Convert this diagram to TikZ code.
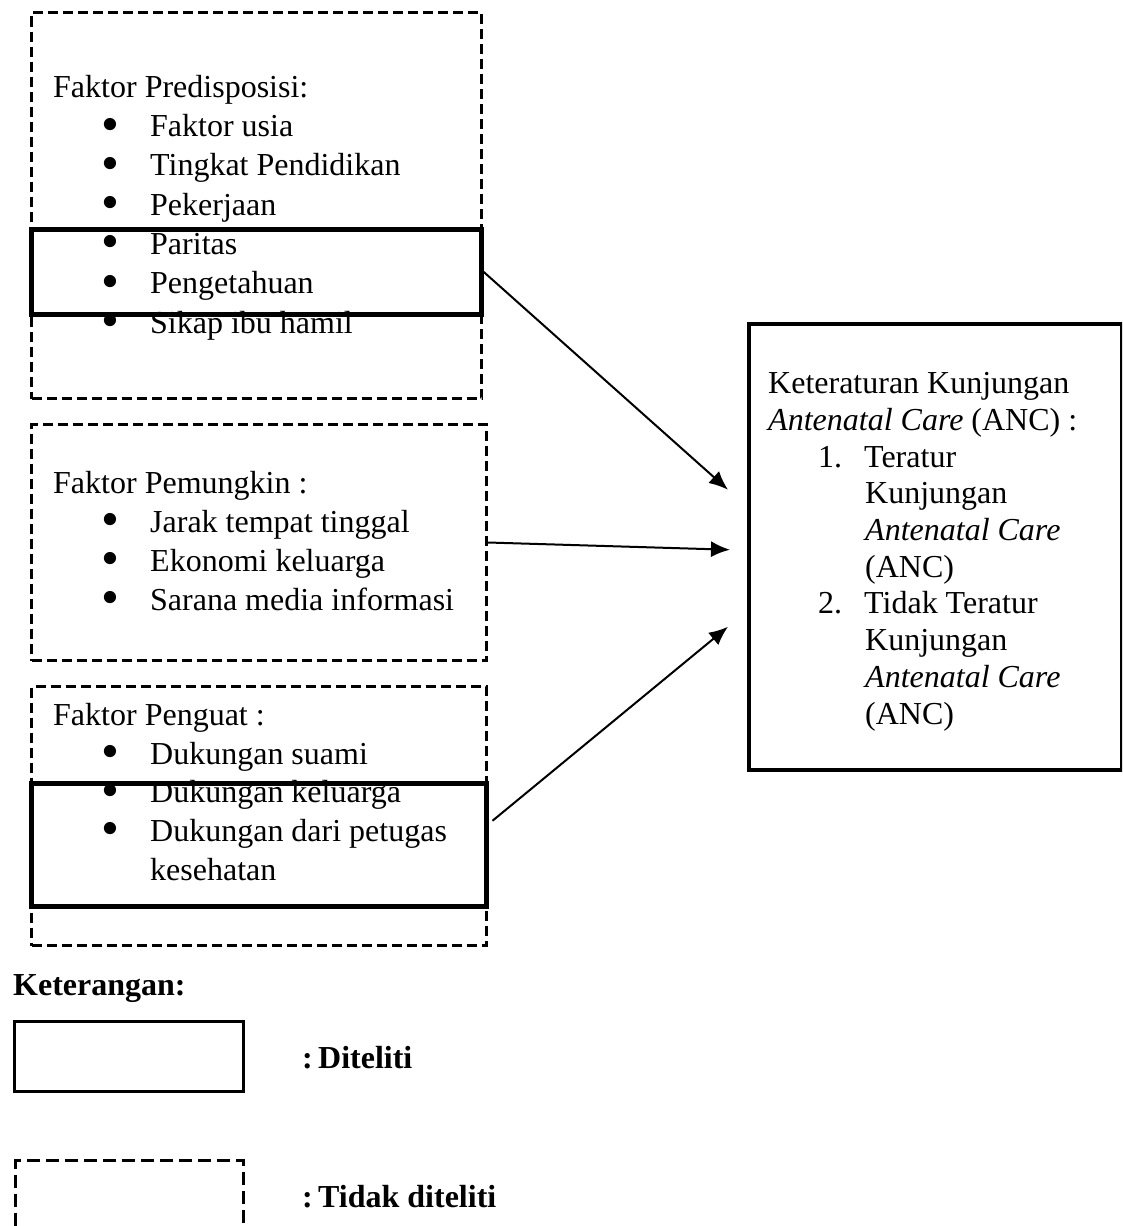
\documentclass[tikz,border=0pt]{standalone}
\usepackage{fontspec}
\setmainfont{Liberation Serif}
\usepackage{tikz}
\usetikzlibrary{arrows.meta,positioning,calc}

% bullet and number lines
\newcommand{\bul}{\hspace*{48pt}\makebox[49pt][l]{\raisebox{-4.5pt}{\scalebox{1.6}{\textbullet}}}}
\newcommand{\wrp}{\hspace*{97pt}}
\newcommand{\nmr}[1]{\hspace*{50pt}\makebox[46pt][l]{#1}}

\tikzset{
  dashbox/.style={draw,line width=3pt,dash pattern=on 10pt off 5pt,inner sep=0pt,anchor=north west},
  keybox/.style={draw,line width=4.5pt,inner sep=0pt,anchor=north west},
  txt/.style={inner sep=0pt,anchor=base west,align=left},
  arr/.style={-{Latex[length=19pt,width=16pt]},line width=2pt}
}

\begin{document}
\begin{tikzpicture}[x=1pt,y=-1pt]
  \useasboundingbox (0,0) rectangle (1122,1226);
  \clip (0,0) rectangle (1122,1226);

  % faktor predisposisi (text placed at its last baseline)
  \node[dashbox,minimum width=450pt,minimum height=386pt] (pre) at (30,11) {};
  \node[keybox,minimum width=450pt,minimum height=85pt] (preKey) at (29,227) {};
  \node[txt,font=\fontsize{32}{39.3}\selectfont] (preTxt) at (53,333)
    {Faktor Predisposisi:\\ \bul Faktor usia\\ \bul Tingkat Pendidikan\\ \bul Pekerjaan\\
     \bul Paritas\\ \bul Pengetahuan\\ \bul Sikap ibu hamil};

  % faktor pemungkin
  \node[dashbox,minimum width=455pt,minimum height=236pt] (pem) at (30,423) {};
  \node[txt,font=\fontsize{32}{39}\selectfont] (pemTxt) at (53,610)
    {Faktor Pemungkin :\\ \bul Jarak tempat tinggal\\ \bul Ekonomi keluarga\\ \bul Sarana media informasi};

  % faktor penguat
  \node[dashbox,minimum width=455pt,minimum height=259pt] (peng) at (30,685) {};
  \node[keybox,minimum width=455pt,minimum height=123pt] (pengKey) at (29,781) {};
  \node[txt,font=\fontsize{32}{38.6}\selectfont] (pengTxt) at (53,880)
    {Faktor Penguat :\\ \bul Dukungan suami\\ \bul Dukungan keluarga\\ \bul Dukungan dari petugas\\ \wrp kesehatan};

  % keteraturan ANC
  \node[keybox,line width=3.5pt,minimum width=373pt,minimum height=446pt] (anc) at (747,322) {};
  \node[txt,font=\fontsize{32}{36.7}\selectfont] (ancTxt) at (768,724)
    {Keteraturan Kunjungan\\ \textit{Antenatal Care} (ANC) :\\
     \nmr{1.}Teratur\\ \wrp Kunjungan\\ \wrp \textit{Antenatal Care}\\ \wrp (ANC)\\
     \nmr{2.}Tidak Teratur\\ \wrp Kunjungan\\ \wrp \textit{Antenatal Care}\\ \wrp (ANC)};

  \draw[arr] (preKey.east) -- ([xshift=-19pt,yshift=57pt]anc.west);
  \draw[arr] (pem.east) -- ([xshift=-17pt,yshift=-3pt]anc.west);
  \draw[arr] ([xshift=4pt,yshift=24pt]pengKey.east) -- ([xshift=-19pt,yshift=-80pt]anc.west);

  % keterangan
  \node[txt,font=\fontsize{32}{38}\selectfont\bfseries] (ket) at (13,995) {Keterangan:};
  \node[keybox,line width=2.5pt,minimum width=229pt,minimum height=70pt] (legKey) at (13,1020) {};
  \node[txt,font=\fontsize{32}{38}\selectfont\bfseries] (legKeyTxt) at (302,1068) {:\,Diteliti};
  \node[dashbox,dash pattern=on 13pt off 6pt,minimum width=228pt,minimum height=100pt] (legDash) at (14,1159) {};
  \node[txt,font=\fontsize{32}{38}\selectfont\bfseries] (legDashTxt) at (302,1207) {:\,Tidak diteliti};
\end{tikzpicture}
\end{document}
